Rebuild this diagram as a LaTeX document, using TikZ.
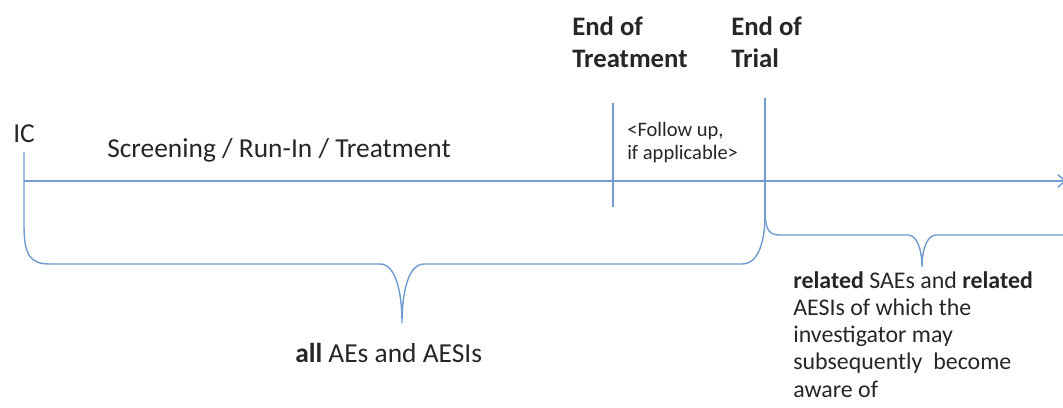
\documentclass[tikz,border=0pt]{standalone}
\usepackage{fontspec}
\setmainfont{Carlito}
\usepackage{xcolor}
\usetikzlibrary{arrows.meta}

\definecolor{garisbiru}{HTML}{6F9BD0}
\definecolor{tinta}{HTML}{262626}

\begin{document}
\begin{tikzpicture}[
    x=0.025cm, y=-0.025cm,
    text=tinta,
    garis/.style={draw=garisbiru, line width=1pt},
    label/.style={inner sep=0pt, anchor=base west,
                  font=\fontsize{19.5}{23}\selectfont},
    judul/.style={inner sep=0pt, anchor=north west, align=left,
                  font=\fontsize{19}{23.4}\selectfont\bfseries},
    catatan/.style={inner sep=0pt, anchor=north west, align=left,
                    font=\fontsize{14.6}{16.4}\selectfont},
    panah/.style={garis, -{Straight Barb[length=5pt, width=9pt]}}
  ]
    \useasboundingbox (0,0) rectangle (1063,407);

    % titik waktu
    \coordinate (ic) at (24,152);
    \coordinate (awal) at (24,181);
    \coordinate (akhir) at (1066,181);
    \coordinate (eot-atas) at (613,103);
    \coordinate (eot-bawah) at (613,207);
    \coordinate (eotr-atas) at (765,98);
    \coordinate (cabang) at (765,215);

    % label
    \node[label] (lic) at (13,142) {IC};
    \node[label] (fase) at (107,157) {Screening / Run-In / Treatment};
    \node[judul] (leot) at (572,16) {End of\\Treatment};
    \node[judul] (leotr) at (731,16) {End of\\Trial};
    \node[catatan] (ikut) at (627,122) {<Follow up,\\if applicable>};
    \node[label] (semua) at (295,362) {\textbf{all} AEs and AESIs};
    \node[inner sep=0pt, anchor=north west, align=left,
          font=\fontsize{17}{19.4}\selectfont] (terkait) at (793,271)
      {\textbf{related} SAEs and \textbf{related}\\AESIs of which the\\
       investigator may\\subsequently\ \ become\\aware of};

    % garis waktu
    \draw[panah] (awal) -- (akhir);
    \draw[garis] (eot-atas) -- (eot-bawah);
    \draw[garis] (eotr-atas) -- (cabang);

    % kurung besar
    \draw[garis] (ic) -- (24,225) .. controls (24,255) and (30,264) .. (50,264)
      -- (380,264) .. controls (395,264) and (402,290) .. (402,323)
      .. controls (402,290) and (409,264) .. (424,264)
      -- (742,264) .. controls (759,264) and (765,240) .. (cabang);

    % kurung kecil
    \draw[garis] (cabang) .. controls (766,231) and (770,235) .. (780,235)
      -- (908,235) .. controls (917,235) and (922,250) .. (922,267)
      .. controls (922,250) and (927,235) .. (936,235) -- (1064,235);
  \end{tikzpicture}
\end{document}
